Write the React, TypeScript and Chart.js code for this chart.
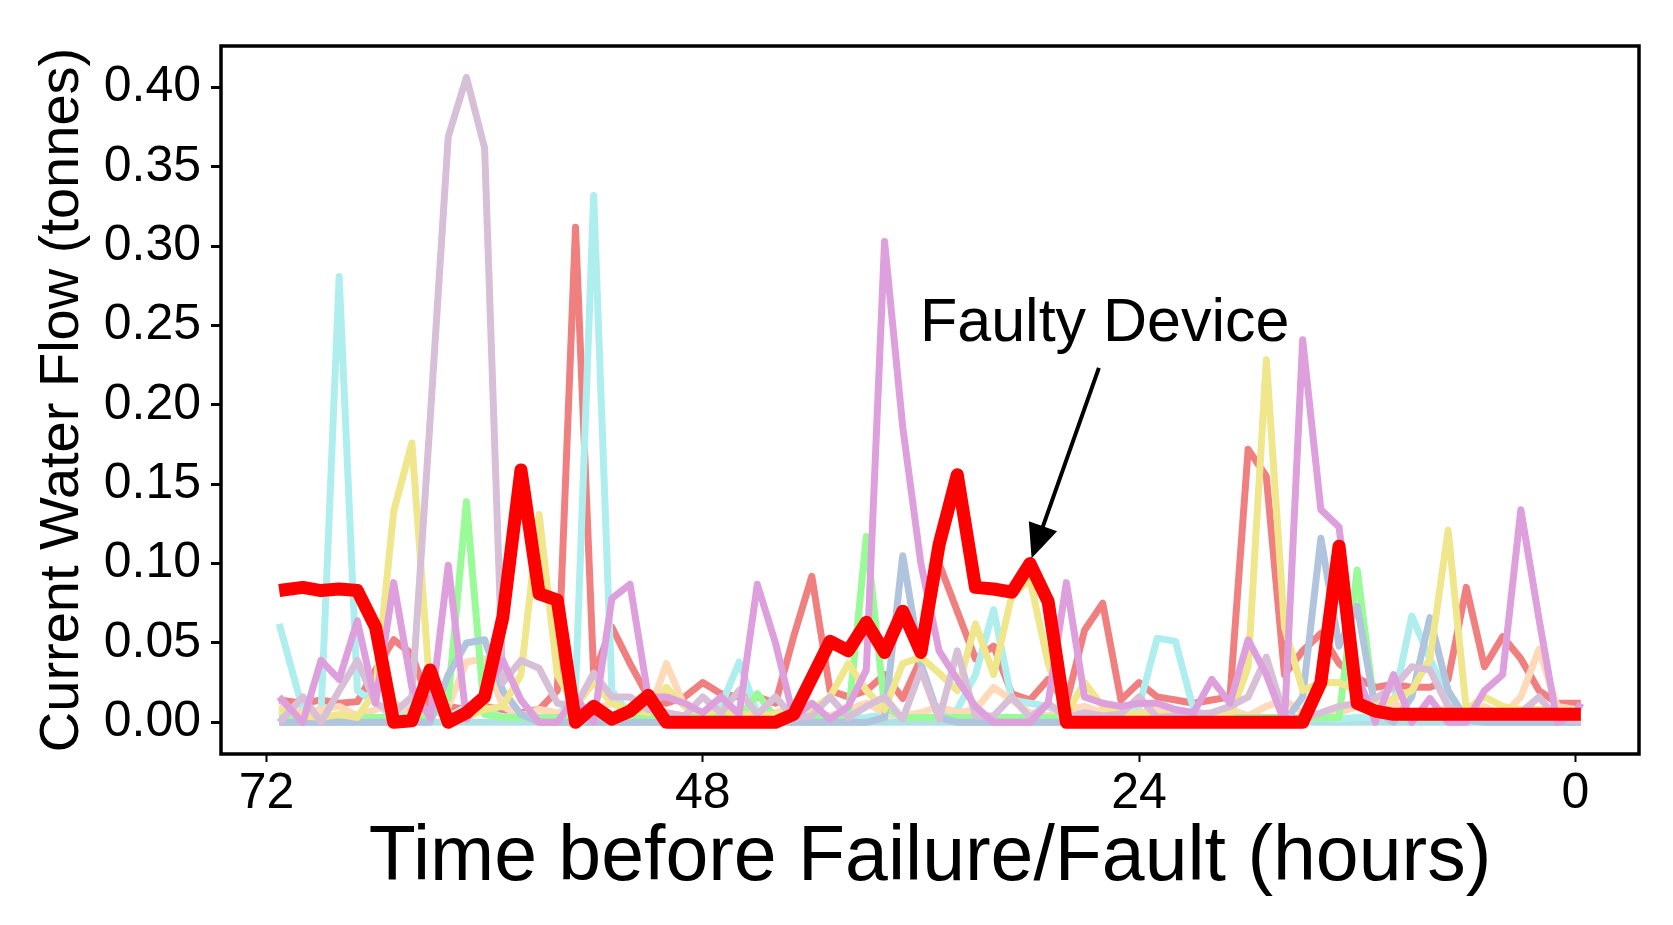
import React, { useEffect, useRef } from "react";
import { Chart, registerables } from "chart.js";

Chart.register(...registerables);

// Hours before failure (x positions of the readings)
const hours = [
  71.3, 70, 69, 68, 67, 66, 65, 64, 63, 62, 61, 60, 59, 58, 57, 56, 55, 54, 53, 52,
  51, 50, 49, 48, 47, 46, 45, 44, 43, 42, 41, 40, 39, 38, 37, 36, 35, 34, 33, 32,
  31, 30, 29, 28, 27, 26, 25, 24, 23, 22, 21, 20, 19, 18, 17, 16, 15, 14, 13, 12,
  11, 10, 9, 8, 7, 6, 5, 4, 3, 2, 1, 0, -0.3,
];

const faultyDevice = [
  0.083, 0.085, 0.083, 0.084, 0.083, 0.060, 0.000, 0.001, 0.033, 0.000,
  0.006, 0.016, 0.066, 0.159, 0.081, 0.077, 0.000, 0.010, 0.002, 0.007,
  0.017, 0.000, 0.000, 0.000, 0.000, 0.000, 0.000, 0.000, 0.005, 0.028,
  0.051, 0.045, 0.063, 0.044, 0.070, 0.044, 0.112, 0.156, 0.085, 0.084,
  0.082, 0.100, 0.076, 0.000, 0.000, 0.000, 0.000, 0.000, 0.000, 0.000,
  0.000, 0.000, 0.000, 0.000, 0.000, 0.000, 0.000, 0.025, 0.111, 0.012,
  0.007, 0.005, 0.005, 0.005, 0.005, 0.005, 0.005, 0.005, 0.005, 0.005,
  0.005, 0.005, 0.005,
];

const devicePlum = [
  0.016, 0.000, 0.039, 0.027, 0.064, 0.012, 0.088, 0.022, 0.003, 0.099,
  0.002, 0.018, 0.039, 0.014, 0.000, 0.000, 0.016, 0.000, 0.078, 0.087,
  0.016, 0.016, 0.012, 0.006, 0.016, 0.005, 0.087, 0.050, 0.003, 0.012,
  0.002, 0.010, 0.033, 0.303, 0.186, 0.100, 0.045, 0.027, 0.010, 0.000,
  0.000, 0.000, 0.012, 0.088, 0.016, 0.012, 0.010, 0.012, 0.012, 0.008,
  0.006, 0.027, 0.012, 0.052, 0.030, 0.000, 0.241, 0.134, 0.123, 0.030,
  0.000, 0.030, 0.000, 0.015, 0.000, 0.000, 0.020, 0.030, 0.134, 0.065,
  0.000, 0.005, 0.012,
];

const deviceThistle = [
  0.000, 0.016, 0.000, 0.020, 0.039, 0.012, 0.006, 0.016, 0.190, 0.369,
  0.4065, 0.362, 0.025, 0.039, 0.034, 0.012, 0.010, 0.031, 0.016, 0.016,
  0.008, 0.006, 0.004, 0.016, 0.006, 0.020, 0.005, 0.016, 0.003, 0.004,
  0.016, 0.003, 0.010, 0.016, 0.002, 0.033, 0.002, 0.045, 0.004, 0.004,
  0.016, 0.003, 0.012, 0.003, 0.006, 0.004, 0.005, 0.016, 0.003, 0.004,
  0.005, 0.006, 0.010, 0.016, 0.041, 0.004, 0.002, 0.006, 0.010, 0.012,
  0.015, 0.022, 0.035, 0.033, 0.010, 0.005, 0.004, 0.005, 0.006, 0.016,
  0.002, 0.001, 0.001,
];

const deviceKhaki = [
  0.008, 0.004, 0.003, 0.005, 0.003, 0.020, 0.133, 0.176, 0.020, 0.005,
  0.003, 0.008, 0.010, 0.030, 0.131, 0.030, 0.010, 0.025, 0.012, 0.008,
  0.006, 0.022, 0.010, 0.006, 0.008, 0.005, 0.004, 0.005, 0.006, 0.008,
  0.016, 0.037, 0.020, 0.008, 0.037, 0.041, 0.031, 0.020, 0.062, 0.030,
  0.080, 0.090, 0.037, 0.005, 0.025, 0.010, 0.006, 0.005, 0.004, 0.006,
  0.005, 0.004, 0.003, 0.035, 0.2285, 0.060, 0.020, 0.025, 0.025, 0.020,
  0.010, 0.015, 0.020, 0.040, 0.121, 0.008, 0.016, 0.010, 0.008, 0.008,
  0.006, 0.006, 0.006,
];

const deviceSteelBlue = [
  0.000, 0.000, 0.000, 0.000, 0.000, 0.000, 0.000, 0.000, 0.000, 0.030,
  0.050, 0.052, 0.020, 0.005, 0.000, 0.000, 0.000, 0.000, 0.000, 0.000,
  0.000, 0.000, 0.000, 0.000, 0.000, 0.000, 0.000, 0.000, 0.000, 0.000,
  0.000, 0.000, 0.000, 0.003, 0.105, 0.037, 0.003, 0.000, 0.000, 0.000,
  0.000, 0.000, 0.000, 0.000, 0.000, 0.000, 0.000, 0.000, 0.000, 0.000,
  0.000, 0.000, 0.000, 0.000, 0.000, 0.000, 0.016, 0.116, 0.048, 0.073,
  0.008, 0.000, 0.016, 0.066, 0.020, 0.002, 0.000, 0.000, 0.000, 0.000,
  0.000, 0.000, 0.000,
];

const deviceGreen = [
  0.003, 0.003, 0.003, 0.003, 0.003, 0.003, 0.003, 0.003, 0.003, 0.015,
  0.139, 0.005, 0.003, 0.003, 0.003, 0.003, 0.003, 0.003, 0.003, 0.003,
  0.003, 0.003, 0.003, 0.003, 0.003, 0.003, 0.018, 0.003, 0.003, 0.003,
  0.003, 0.003, 0.117, 0.010, 0.003, 0.003, 0.003, 0.003, 0.003, 0.003,
  0.003, 0.003, 0.003, 0.003, 0.003, 0.003, 0.003, 0.003, 0.003, 0.003,
  0.003, 0.003, 0.003, 0.003, 0.003, 0.003, 0.003, 0.003, 0.003, 0.096,
  0.005, 0.003, 0.003, 0.003, 0.003, 0.003, 0.003, 0.003, 0.003, 0.003,
  0.003, 0.003, 0.003,
];

const devicePeach = [
  0.010, 0.006, 0.008, 0.010, 0.004, 0.008, 0.012, 0.006, 0.004, 0.010,
  0.038, 0.040, 0.010, 0.004, 0.008, 0.006, 0.004, 0.008, 0.012, 0.006,
  0.004, 0.037, 0.010, 0.004, 0.006, 0.008, 0.004, 0.006, 0.010, 0.006,
  0.004, 0.008, 0.012, 0.006, 0.004, 0.006, 0.010, 0.006, 0.008, 0.022,
  0.014, 0.006, 0.004, 0.008, 0.010, 0.006, 0.004, 0.006, 0.008, 0.004,
  0.006, 0.004, 0.008, 0.004, 0.010, 0.014, 0.006, 0.004, 0.006, 0.010,
  0.008, 0.012, 0.006, 0.004, 0.010, 0.006, 0.010, 0.004, 0.016, 0.046,
  0.010, 0.008, 0.008,
];

const deviceTurquoise = [
  0.062, 0.008, 0.005, 0.281, 0.020, 0.012, 0.003, 0.010, 0.022, 0.003,
  0.010, 0.008, 0.003, 0.005, 0.002, 0.003, 0.020, 0.332, 0.020, 0.004,
  0.003, 0.005, 0.004, 0.003, 0.010, 0.038, 0.006, 0.003, 0.002, 0.003,
  0.003, 0.002, 0.003, 0.005, 0.004, 0.003, 0.003, 0.008, 0.030, 0.071,
  0.014, 0.012, 0.010, 0.003, 0.002, 0.003, 0.004, 0.010, 0.053, 0.051,
  0.008, 0.003, 0.002, 0.002, 0.002, 0.003, 0.002, 0.003, 0.002, 0.003,
  0.003, 0.012, 0.067, 0.040, 0.015, 0.003, 0.002, 0.002, 0.003, 0.002,
  0.002, 0.002, 0.002,
];

const deviceCoral = [
  0.014, 0.012, 0.014, 0.012, 0.013, 0.033, 0.052, 0.043, 0.010, 0.010,
  0.008, 0.010, 0.008, 0.006, 0.008, 0.020, 0.312, 0.030, 0.060, 0.037,
  0.016, 0.012, 0.016, 0.025, 0.018, 0.016, 0.016, 0.012, 0.054, 0.092,
  0.020, 0.016, 0.020, 0.030, 0.015, 0.040, 0.100, 0.070, 0.040, 0.048,
  0.018, 0.014, 0.027, 0.012, 0.058, 0.075, 0.014, 0.025, 0.016, 0.014,
  0.012, 0.014, 0.016, 0.172, 0.155, 0.030, 0.045, 0.056, 0.037, 0.028,
  0.022, 0.024, 0.022, 0.022, 0.027, 0.085, 0.035, 0.054, 0.040, 0.020,
  0.012, 0.012, 0.012,
];

const devicePowderBlue = [
  0, 0, 0, 0, 0, 0, 0, 0, 0, 0, 0, 0, 0, 0, 0, 0, 0, 0, 0, 0,
  0, 0, 0, 0, 0, 0, 0, 0, 0, 0, 0, 0, 0, 0, 0, 0, 0, 0, 0, 0,
  0, 0, 0, 0, 0, 0, 0, 0, 0, 0, 0, 0, 0, 0, 0, 0, 0, 0, 0, 0,
  0, 0, 0, 0, 0, 0, 0, 0, 0, 0, 0, 0, 0,
];

const xTickValues = [72, 48, 24, 0];
const yTickValues = [0, 0.05, 0.1, 0.15, 0.2, 0.25, 0.3, 0.35, 0.4];

const annotationText = "Faulty Device";
const annotationTextAt = [36.05, 0.2403];
const arrowTail = [26.21, 0.2233];
const arrowTip = [29.91, 0.1033];

const FONT = '"Liberation Sans", Arial, sans-serif';

const frameAndAnnotation = {
  id: "frameAndAnnotation",
  afterDraw(chart: any) {
    const { ctx, chartArea: a, scales } = chart;
    const x = scales.x;
    const y = scales.y;
    ctx.save();
    ctx.strokeStyle = "#000";
    ctx.lineWidth = 3.5;
    ctx.strokeRect(a.left, a.top, a.right - a.left, a.bottom - a.top);

    ctx.fillStyle = "#000";
    ctx.font = `61px ${FONT}`;
    ctx.textAlign = "left";
    ctx.textBaseline = "alphabetic";
    ctx.fillText(
      annotationText,
      x.getPixelForValue(annotationTextAt[0]),
      y.getPixelForValue(annotationTextAt[1])
    );

    const tx = x.getPixelForValue(arrowTail[0]);
    const ty = y.getPixelForValue(arrowTail[1]);
    const hx = x.getPixelForValue(arrowTip[0]);
    const hy = y.getPixelForValue(arrowTip[1]);
    const dx = hx - tx;
    const dy = hy - ty;
    const len = Math.sqrt(dx * dx + dy * dy);
    const ux = dx / len;
    const uy = dy / len;
    const headLen = 34;
    const headHalf = 15;
    const bx = hx - ux * headLen;
    const by = hy - uy * headLen;
    ctx.lineWidth = 4;
    ctx.beginPath();
    ctx.moveTo(tx, ty);
    ctx.lineTo(bx + ux * 4, by + uy * 4);
    ctx.stroke();
    ctx.beginPath();
    ctx.moveTo(hx, hy);
    ctx.lineTo(bx - uy * headHalf, by + ux * headHalf);
    ctx.lineTo(bx + uy * headHalf, by - ux * headHalf);
    ctx.closePath();
    ctx.fill();
    ctx.restore();
  },
};

function series(label: string, values: number[], color: string, width: number) {
  return {
    label,
    data: hours.map((h, i) => ({ x: h, y: values[i] })),
    borderColor: color,
    backgroundColor: color,
    borderWidth: width,
    pointRadius: 0,
    pointHoverRadius: 0,
    tension: 0,
    fill: false,
    borderJoinStyle: "round" as const,
    borderCapStyle: "butt" as const,
  };
}

export default function App() {
  const canvasRef = useRef<HTMLCanvasElement | null>(null);

  useEffect(() => {
    if (!canvasRef.current) return;
    const chart = new Chart(canvasRef.current, {
      type: "line",
      data: {
        datasets: [
          series("Faulty Device", faultyDevice, "#FF0000", 13),
          series("Device 1", devicePlum, "#DDA0DD", 7),
          series("Device 2", deviceThistle, "#D8BFD8", 7),
          series("Device 3", deviceKhaki, "#F0E68C", 7),
          series("Device 4", deviceSteelBlue, "#B0C4DE", 7),
          series("Device 5", deviceGreen, "#98FB98", 7),
          series("Device 6", devicePeach, "#FFDAB9", 7),
          series("Device 7", deviceTurquoise, "#AFEEEE", 7),
          series("Device 8", deviceCoral, "#F08080", 7),
          series("Device 9", devicePowderBlue, "#B0E0E6", 7),
        ],
      },
      options: {
        responsive: false,
        animation: false,
        devicePixelRatio: 1,
        layout: { padding: { top: 46, right: 34, left: 0, bottom: 0 } },
        plugins: {
          legend: { display: false },
          tooltip: { enabled: false },
        },
        scales: {
          x: {
            type: "linear",
            reverse: true,
            min: -3.5,
            max: 74.5,
            afterBuildTicks: (scale: any) => {
              scale.ticks = xTickValues.map((v) => ({ value: v }));
            },
            afterFit: (scale: any) => {
              scale.height = 171;
            },
            grid: {
              display: true,
              drawOnChartArea: false,
              drawTicks: true,
              tickLength: 8,
              tickWidth: 2,
              tickColor: "#000",
              color: "#000",
            },
            border: { display: false },
            ticks: {
              autoSkip: false,
              maxRotation: 0,
              padding: 2,
              color: "#000",
              font: { family: FONT, size: 50 },
              callback: (v: any) => String(v),
            },
            title: {
              display: true,
              text: "Time before Failure/Fault (hours)",
              color: "#000",
              font: { family: FONT, size: 77 },
              padding: { top: 0, bottom: 20 },
            },
          },
          y: {
            type: "linear",
            min: -0.02,
            max: 0.4262,
            afterBuildTicks: (scale: any) => {
              scale.ticks = yTickValues.map((v) => ({ value: v }));
            },
            afterFit: (scale: any) => {
              scale.width = 221;
            },
            grid: {
              display: true,
              drawOnChartArea: false,
              drawTicks: true,
              tickLength: 10,
              tickWidth: 3,
              tickColor: "#000",
              color: "#000",
            },
            border: { display: false },
            ticks: {
              autoSkip: false,
              padding: 10,
              color: "#000",
              font: { family: FONT, size: 50 },
              callback: (v: any) => Number(v).toFixed(2),
            },
            title: {
              display: true,
              text: "Current Water Flow (tonnes)",
              color: "#000",
              font: { family: FONT, size: 56 },
              padding: { top: 29, bottom: 0 },
            },
          },
        },
      },
      plugins: [frameAndAnnotation],
    });
    return () => chart.destroy();
  }, []);

  return (
    <div style={{ position: "fixed", left: 0, top: 0, width: 1673, height: 925, background: "#fff" }}>
      <canvas
        ref={canvasRef}
        width={1673}
        height={925}
        style={{ display: "block", width: 1673, height: 925 }}
      />
    </div>
  );
}
